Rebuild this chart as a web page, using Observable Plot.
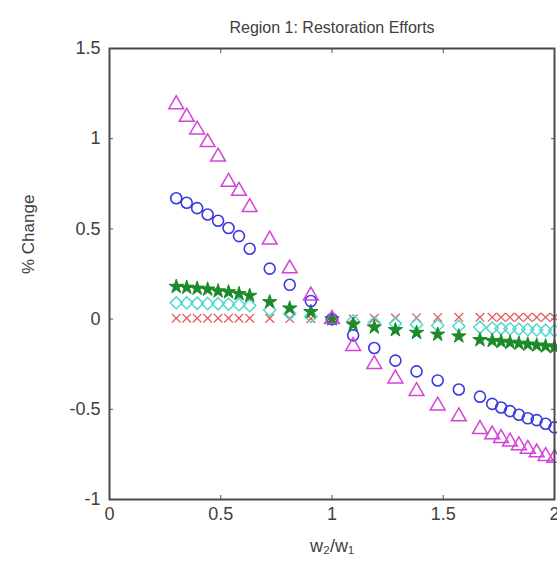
<!DOCTYPE html>
<html><head><meta charset="utf-8">
<script src="https://cdn.jsdelivr.net/npm/d3@7"></script>
<script src="https://cdn.jsdelivr.net/npm/@observablehq/plot@0.6"></script>
<style>body{margin:0;background:#fff;}</style>
</head><body><div id="chart"></div>
<script>
const titleText = "Region 1: Restoration Efforts";
const yLabel = "% Change";
const xLabel = "w\u2082/w\u2081";
const xTicks = [0, 0.5, 1, 1.5, 2];
const yTicks = [-1, -0.5, 0, 0.5, 1, 1.5];

const xValues = [0.3, 0.347, 0.394, 0.441, 0.488, 0.535, 0.582, 0.63,
  0.72, 0.81, 0.905, 1.0, 1.095, 1.19, 1.285, 1.38, 1.475, 1.57, 1.665,
  1.72, 1.76, 1.80, 1.84, 1.88, 1.92, 1.96, 2.0];

const magentaTriangles = [1.19, 1.12, 1.05, 0.98, 0.90, 0.76, 0.71, 0.62,
  0.44, 0.28, 0.13, 0.0, -0.15, -0.25, -0.33, -0.40, -0.48, -0.54, -0.61,
  -0.64, -0.66, -0.68, -0.70, -0.72, -0.74, -0.76, -0.77];
const blueCircles = [0.67, 0.645, 0.615, 0.58, 0.545, 0.505, 0.46, 0.39,
  0.28, 0.19, 0.10, 0.0, -0.09, -0.16, -0.23, -0.29, -0.34, -0.39, -0.43,
  -0.47, -0.49, -0.51, -0.53, -0.55, -0.56, -0.58, -0.60];
const greenStars = [0.18, 0.175, 0.17, 0.165, 0.155, 0.15, 0.14, 0.13,
  0.095, 0.06, 0.04, 0.0, -0.03, -0.045, -0.06, -0.075, -0.085, -0.095, -0.115,
  -0.12, -0.125, -0.13, -0.135, -0.14, -0.145, -0.15, -0.155];
const cyanDiamonds = [0.09, 0.09, 0.088, 0.086, 0.085, 0.083, 0.08, 0.075,
  0.05, 0.03, 0.015, 0.0, -0.01, -0.02, -0.025, -0.03, -0.035, -0.04, -0.045,
  -0.05, -0.052, -0.054, -0.056, -0.058, -0.06, -0.062, -0.064];
const redCrosses = [0.005, 0.005, 0.005, 0.005, 0.005, 0.005, 0.005, 0.005,
  0.004, 0.003, 0.002, 0.0, 0.002, 0.004, 0.006, 0.008, 0.009, 0.01, 0.01,
  0.01, 0.01, 0.01, 0.01, 0.01, 0.01, 0.01, 0.01];

const toRows = vals => vals.map((v, i) => ({x: xValues[i], y: v}));

const font = "'Liberation Sans', Arial, Helvetica, sans-serif";
const ink = "#404040";

const plot = Plot.plot({
  width: 557, height: 569,
  marginTop: 48, marginLeft: 109, marginRight: 3, marginBottom: 70,
  style: {fontFamily: font, background: "#fff", color: ink, overflow: "visible"},
  x: {domain: [0, 2]},
  y: {domain: [-1, 1.5]},
  marks: [
    Plot.axisX(xTicks, {anchor: "bottom", tickSize: 0, tickPadding: 8, fontSize: 18, label: null, tickFormat: d => String(d)}),
    Plot.axisY(yTicks, {anchor: "left", tickSize: 0, tickPadding: 9, fontSize: 18, label: null, tickFormat: d => String(d)}),
    Plot.axisX(xTicks, {anchor: "bottom", tickSize: -4, tickFormat: () => "", label: null, stroke: "#555"}),
    Plot.axisX(xTicks, {anchor: "top", tickSize: -4, tickFormat: () => "", label: null, stroke: "#555"}),
    Plot.axisY(yTicks, {anchor: "left", tickSize: -4, tickFormat: () => "", label: null, stroke: "#555"}),
    Plot.axisY(yTicks, {anchor: "right", tickSize: -4, tickFormat: () => "", label: null, stroke: "#555"}),
    Plot.dot(toRows(redCrosses), {x: "x", y: "y", symbol: "times", r: 4, stroke: "#e35b5b", strokeWidth: 1.3}),
    Plot.dot(toRows(cyanDiamonds), {x: "x", y: "y", symbol: "diamond2", r: 5.5, stroke: "#4fd8d2", fill: "none", strokeWidth: 1.5}),
    Plot.dot(toRows(greenStars), {x: "x", y: "y", symbol: "star", r: 4.5, stroke: "#1d8a2a", fill: "#1d8a2a", strokeWidth: 1}),
    Plot.dot(toRows(blueCircles), {x: "x", y: "y", symbol: "circle", r: 5.5, stroke: "#3a3ae0", fill: "none", strokeWidth: 1.6}),
    Plot.dot(toRows(magentaTriangles), {x: "x", y: "y", symbol: "triangle", r: 5.5, stroke: "#d542d5", fill: "none", strokeWidth: 1.5}),
    Plot.frame({stroke: "#4a4a4a", strokeWidth: 2}),
    Plot.text([titleText], {frameAnchor: "top", dy: -27, fontSize: 16, fill: ink, text: d => d}),
    Plot.text([yLabel], {frameAnchor: "left", dx: -81, rotate: -90, fontSize: 17, fill: ink, text: d => d}),
    Plot.text([xLabel], {frameAnchor: "bottom", dy: 52, fontSize: 18, fill: ink, text: d => d})
  ]
});
document.getElementById("chart").appendChild(plot);
</script>
</body></html>
